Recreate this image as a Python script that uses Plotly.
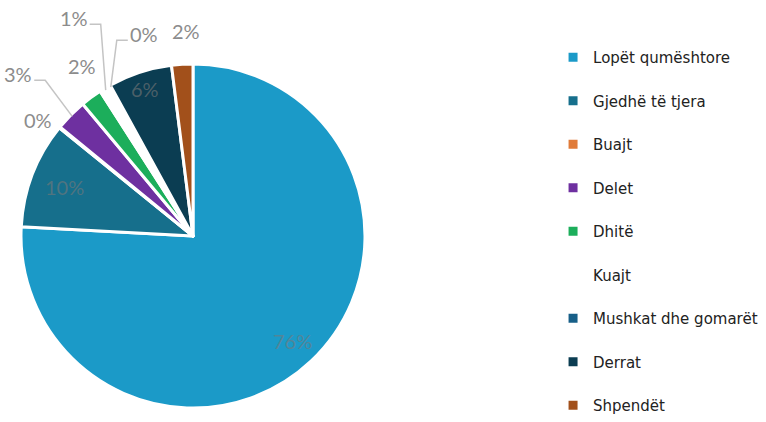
import math
import plotly.graph_objects as go

labels = ["Lopët qumështore", "Gjedhë të tjera", "Buajt", "Delet", "Dhitë",
          "Kuajt", "Mushkat dhe gomarët", "Derrat", "Shpendët"]
values = [76, 10, 0.1, 3, 2, 1, 0.1, 6, 2]
colors = ["#1B9AC8", "#166F8C", "#E07B39", "#6E30A0", "#1CAE5B",
          "#FFFFFF", "#175F88", "#0B3D52", "#A2501B"]
inside = [True, True, False, False, False, False, False, True, False]
inside_frac = [0.84, 0.8, None, None, None, None, None, 0.9, None]
# label offsets (pixels) from slice edge for outside labels; leader line direction (+1 right, -1 left, 0 none)
label_off = [None, None, (-23, -9), (-54, -42), (-10, -33), (-32, -72), (33, -53), None, (4, -35)]
leader = [0, 0, 0, 1, 0, 1, -1, 0, 0]

W, H = 766, 422
CX, CY, R = 193, 236, 172
dom_x = [(CX - R) / W, (CX + R) / W]
dom_y = [(H - CY - R) / H, (H - CY + R) / H]

fig = go.Figure()
fig.add_trace(go.Pie(
    labels=labels, values=values, sort=False, direction="clockwise", rotation=0,
    marker=dict(colors=colors, line=dict(color="white", width=3)),
    textinfo="none", showlegend=False, hoverinfo="label+percent",
    domain=dict(x=dom_x, y=dom_y),
))

for lab, col in zip(labels, colors):
    fig.add_trace(go.Scatter(
        x=[None], y=[None], mode="markers", name=lab, legendgroup=lab,
        marker=dict(symbol="square", size=9, color=col),
    ))


def to_paper(px, py):
    return px / W, 1 - py / H


total = sum(values)
cum = 0
annotations = []
shapes = []
for i, v in enumerate(values):
    mid = (cum + v / 2) / total * 2 * math.pi
    cum += v
    pct = f"{round(v / total * 100)}%"
    if inside[i]:
        rr = inside_frac[i] * R
        px = CX + rr * math.sin(mid)
        py = CY - rr * math.cos(mid)
        x, y = to_paper(px, py)
        annotations.append(dict(x=x, y=y, xref="paper", yref="paper", xanchor="center",
                                yanchor="middle", text=pct, showarrow=False,
                                font=dict(family="Lato", size=20, color="rgba(120,120,120,0.6)")))
    else:
        ex = CX + (R - 2) * math.sin(mid)
        ey = CY - (R - 2) * math.cos(mid)
        dx, dy = label_off[i]
        lx, ly = ex + dx, ey + dy
        x, y = to_paper(lx, ly)
        annotations.append(dict(x=x, y=y, xref="paper", yref="paper", xanchor="center",
                                yanchor="middle", text=pct, showarrow=False,
                                font=dict(family="Lato", size=20, color="#8C8C8C")))
        s = leader[i]
        if s:
            p0 = to_paper(lx + s * 16, ly + 6)
            p1 = to_paper(lx + s * 27, ly + 6)
            p2 = to_paper(ex, ey)
            shapes.append(dict(type="path", xref="paper", yref="paper",
                               path=f"M {p0[0]},{p0[1]} L {p1[0]},{p1[1]} L {p2[0]},{p2[1]}",
                               line=dict(color="#C4C4C4", width=1.5)))

fig.update_layout(
    width=W, height=H, margin=dict(l=0, r=0, t=0, b=0),
    paper_bgcolor="white", plot_bgcolor="white",
    xaxis=dict(visible=False), yaxis=dict(visible=False),
    legend=dict(x=0.722, y=0.87, xanchor="left", yanchor="top",
                traceorder="grouped", tracegroupgap=21,
                font=dict(family="DejaVu Sans", size=15, color="#222222"),
                bgcolor="rgba(0,0,0,0)"),
    annotations=annotations,
    shapes=shapes,
)

fig.write_html("out.html")
